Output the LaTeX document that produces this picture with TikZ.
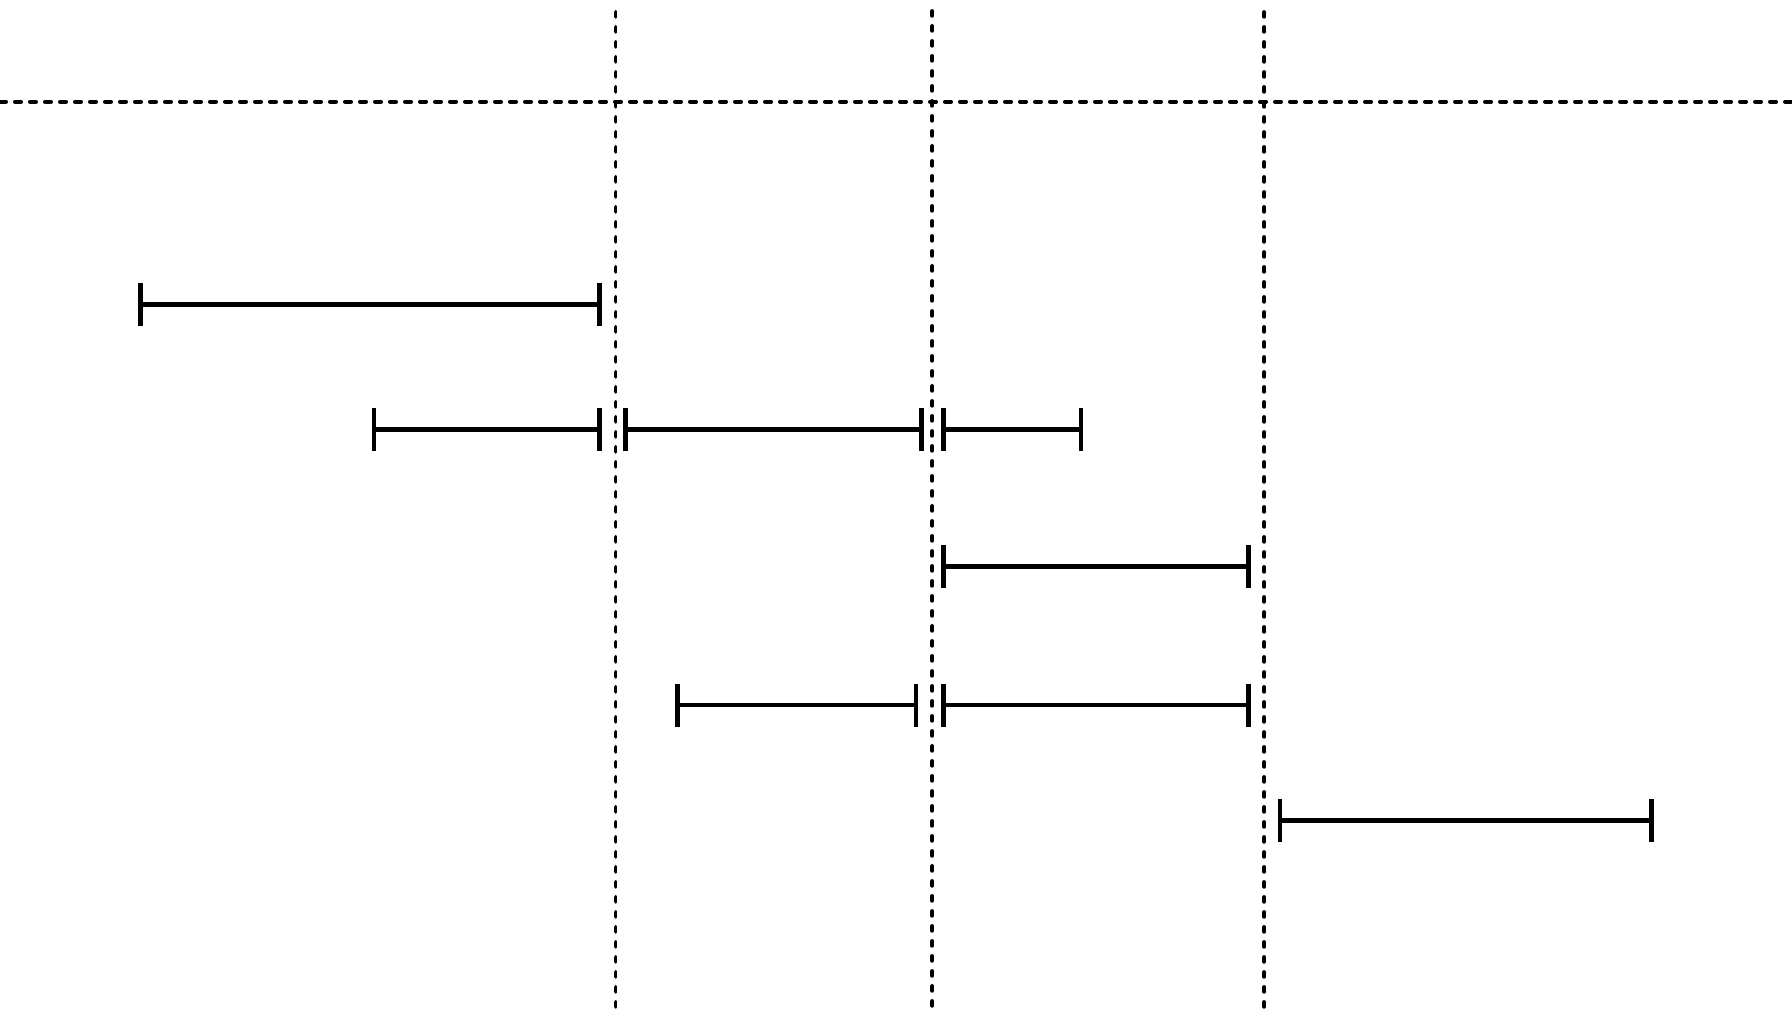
\documentclass[tikz,border=0pt]{standalone}
\begin{document}
\begin{tikzpicture}[x=0.5pt,y=-0.5pt,
  hgrid/.style={line width=2pt, line cap=round, dash pattern=on 3pt off 4.5pt},
  vgrid/.style={line width=1.9pt, line cap=round, dash pattern=on 2.4pt off 5.1pt},
  segline/.style={line width=2.4pt},
  tickline/.style={line width=2.3pt}]
\useasboundingbox[fill=white] (0,0) rectangle (1792,1024);
\newcommand\ivl[3]{%
  \draw[segline] (#1,#3) -- (#2,#3);
  \draw[tickline] (#1,#3-21.5) -- (#1,#3+21.5);
  \draw[tickline] (#2,#3-21.5) -- (#2,#3+21.5);}
% grid lines
\draw[hgrid] (0,101.7) -- (1792,101.7);
\draw[vgrid] (615.5,12) -- (615.5,1011);
\draw[vgrid] (932.3,11) -- (932.3,1009);
\draw[vgrid] (1264.3,12) -- (1264.3,1009);
% intervals
\ivl{140.3}{599.3}{304.3}
\ivl{374}{599.3}{429.3}
\ivl{625.7}{921.3}{429.3}
\ivl{943.3}{1081}{429.3}
\ivl{943.3}{1248.3}{566.7}
\ivl{677.7}{916}{705}
\ivl{943.3}{1248.3}{705}
\ivl{1280}{1651.3}{820.7}
\end{tikzpicture}
\end{document}
